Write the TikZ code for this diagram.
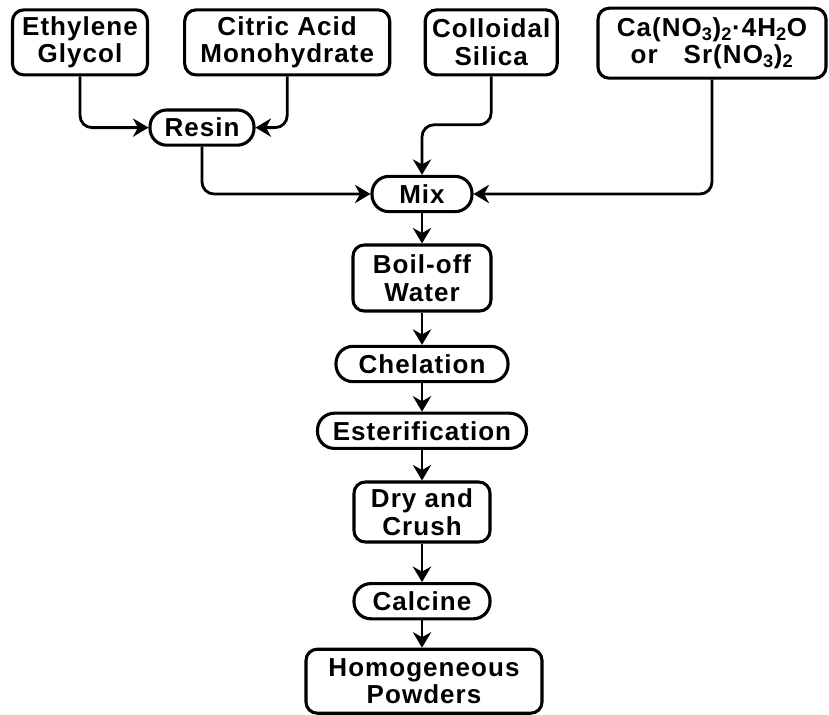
\documentclass[tikz,border=0pt]{standalone}
\usepackage{fontspec}
\newfontfamily\flowfont{Liberation Sans}[LetterSpace=4]
\usepackage{tikz}
\usetikzlibrary{arrows.meta}
\usetikzlibrary{shapes}

\begin{document}
\begin{tikzpicture}[
        box/.style = {draw, line width=2.2pt, rounded corners=0.28cm, align=center,
            inner sep=0pt, font=\flowfont\bfseries\fontsize{18.5}{19.5}\selectfont},
        pill/.style = {box, rounded corners=0.42cm, minimum height=0.88cm},
        flow/.style = {line width=2pt, rounded corners=0.3cm,
            -{Stealth[length=11pt, width=13pt]}}
    ]
        \useasboundingbox (0, 0) rectangle (20.725, -17.875);

        % starting materials
        \node[box, minimum width=3.375cm, minimum height=1.625cm] (glycol) at (2.0, -1.06)
            {Ethylene\\Glycol};
        \node[box, minimum width=5.125cm, minimum height=1.625cm] (citric) at (7.18, -1.06)
            {Citric Acid\\Monohydrate};
        \node[box, minimum width=3.3cm, minimum height=1.625cm] (silica) at (12.28, -1.06)
            {Colloidal\\Silica};
        \node[box, minimum width=5.7cm, minimum height=1.75cm] (nitrate) at (17.8, -1.08)
            {Ca(NO\textsubscript{3})\textsubscript{2}·4H\textsubscript{2}O\\
             or\quad Sr(NO\textsubscript{3})\textsubscript{2}};

        % process chain
        \node[pill, minimum width=2.6cm] (resin) at (5.05, -3.19) {Resin};
        \node[pill, minimum width=2.5cm] (mix) at (10.55, -4.85) {Mix};
        \node[box, minimum width=3.45cm, minimum height=1.65cm] (boil) at (10.55, -6.95)
            {Boil-off\\Water};
        \node[pill, minimum width=4.3cm] (chel) at (10.55, -9.1) {Chelation};
        \node[pill, minimum width=5.225cm] (ester) at (10.55, -10.77) {Esterification};
        \node[box, minimum width=3.4cm, minimum height=1.5cm] (dry) at (10.55, -12.8)
            {Dry and\\Crush};
        \node[pill, minimum width=3.4cm] (calc) at (10.55, -15.03) {Calcine};
        \node[box, minimum width=5.9cm, minimum height=1.6cm] (powder) at (10.6, -17.03)
            {Homogeneous\\Powders};

        % connectors
        \draw[flow] (glycol.south) |- (resin.west);
        \draw[flow] (citric.south) |- (resin.east);
        \draw[flow] (resin.south) |- (mix.west);
        \draw[flow] (silica.south) -- (silica.south |- 0, -3.12) -| (mix.north);
        \draw[flow] (nitrate.south) |- (mix.east);

        \draw[flow] (mix.south) -- (boil.north);
        \draw[flow] (boil.south) -- (chel.north);
        \draw[flow] (chel.south) -- (ester.north);
        \draw[flow] (ester.south) -- (dry.north);
        \draw[flow] (dry.south) -- (calc.north);
        \draw[flow] (calc.south) -- (calc.south |- powder.north);
\end{tikzpicture}
\end{document}
